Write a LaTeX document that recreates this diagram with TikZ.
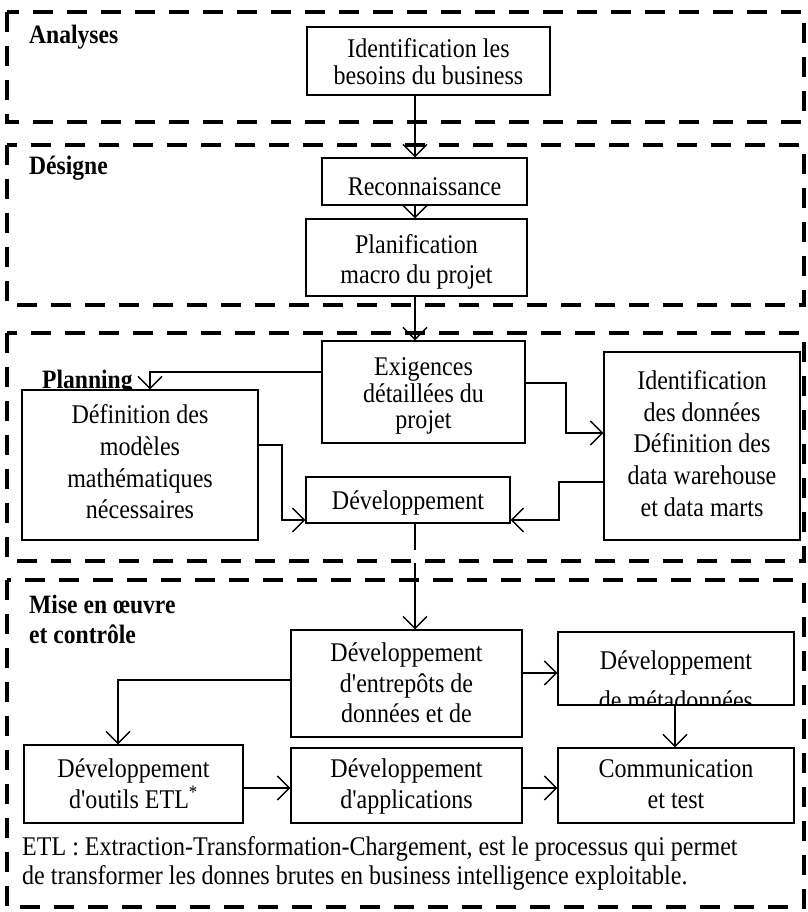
\documentclass[tikz,border=0pt]{standalone}
\usepackage{fontspec}
\setmainfont{Liberation Serif}[Ligatures=TeXOff,FakeStretch=0.89]
\usetikzlibrary{arrows.meta}
\begin{document}
\begin{tikzpicture}[x=1pt,y=-1pt,
  frame/.style={line width=4.5pt, dash pattern=on 20pt off 14pt},
  box/.style={draw, fill=white, line width=1.1pt, inner sep=0pt},
  conn/.style={line width=1.6pt, -{Straight Barb[length=12pt,width=24pt,line width=1.5pt]}},
  plainline/.style={line width=1.6pt},
  lbl/.style={font=\bfseries\fontsize{26.5}{30}\selectfont, inner sep=0pt, anchor=base west},
  txt/.style={font=\fontsize{27}{31}\selectfont, inner sep=0pt, anchor=base}]
\useasboundingbox (0,0) rectangle (807,912);
% frames
\draw[frame] (7,12) rectangle (804,122);
\draw[frame] (7,145) rectangle (804,305);
\draw[frame] (7,333) rectangle (804,561);
\draw[frame] (7,580) rectangle (804,907);
\coordinate (spine) at (415,0);
% labels
\node[lbl] (lA) at (29,44) {Analyses};
\node[lbl] (lD) at (29,175) {Désigne};
\node[lbl] (lP) at (42,388) {Planning};
\node[lbl] (lM1) at (29,613) {Mise en œuvre};
\node[lbl] (lM2) at (29,643) {et contrôle};
% boxes
\node[box, minimum width=243pt, minimum height=68pt] (box1) at (428.5,61) {};
\node[txt] (box1a) at (428.5,58) {Identification les};
\node[txt] (box1b) at (428.5,85) {besoins du business};

\node[box, minimum width=205pt, minimum height=47pt] (recon) at (424.5,181.5) {};
\node[txt] (recona) at (424.5,195) {Reconnaissance};

\node[box, minimum width=221pt, minimum height=77pt] (plan) at (416.5,257.5) {};
\node[txt] (plana) at (416.5,253) {Planification};
\node[txt] (planb) at (416.5,283) {macro du projet};

\node[box, minimum width=203pt, minimum height=102pt] (exig) at (423.5,392) {};
\node[txt] (exiga) at (423.5,375) {Exigences};
\node[txt] (exigb) at (423.5,402) {détaillées du};
\node[txt] (exigc) at (423.5,428) {projet};

\node[box, minimum width=236pt, minimum height=150pt] (defn) at (140,465) {};
\node[txt] (defna) at (140,423) {Définition des};
\node[txt] (defnb) at (140,455) {modèles};
\node[txt] (defnc) at (140,487) {mathématiques};
\node[txt] (defnd) at (140,518) {nécessaires};

\node[box, minimum width=196pt, minimum height=188pt] (ident) at (702,446) {};
\node[txt] (identa) at (702,389) {Identification};
\node[txt] (identb) at (702,421) {des données};
\node[txt] (identc) at (702,452) {Définition des};
\node[txt] (identd) at (702,484) {data warehouse};
\node[txt] (idente) at (702,516) {et data marts};

\node[box, minimum width=204pt, minimum height=46pt] (dev) at (408,500) {};
\node[txt] (deva) at (408,509) {Développement};

\node[box, minimum width=231pt, minimum height=107pt] (entr) at (406.5,683.5) {};
\node[txt] (entra) at (406.5,661) {Développement};
\node[txt] (entrb) at (406.5,692) {d'entrepôts de};
\node[txt] (entrc) at (406.5,722) {données et de};

\node[box, minimum width=236pt, minimum height=73pt] (meta) at (676,668.5) {};
\begin{scope}
\clip (meta.south west) rectangle (meta.north east);
\node[txt] (metaa) at (676,669) {Développement};
\node[txt] (metab) at (676,709) {de métadonnées};
\end{scope}

\node[box, minimum width=219pt, minimum height=78pt] (etl) at (133.5,784) {};
\node[txt] (etla) at (133.5,777) {Développement};
\node[txt] (etlb) at (133.5,808) {d'outils ETL\textsuperscript{*}};

\node[box, minimum width=231pt, minimum height=75pt] (app) at (406.5,785.5) {};
\node[txt] (appa) at (406.5,777) {Développement};
\node[txt] (appb) at (406.5,808) {d'applications};

\node[box, minimum width=236pt, minimum height=75pt] (comm) at (676,785.5) {};
\node[txt] (comma) at (676,777) {Communication};
\node[txt] (commb) at (676,808) {et test};
% footnote
\node[txt, anchor=base west] (fn1) at (22,855) {ETL : Extraction-Transformation-Chargement, est le processus qui permet};
\node[txt, anchor=base west] (fn2) at (22,884) {de transformer les donnes brutes en business intelligence exploitable.};
% connectors
\draw[conn] (box1.south -| spine) -- (recon.north -| spine);
\draw[conn] (recon.south -| spine) -- (plan.north -| spine);
\draw[conn] (plan.south -| spine) -- (exig.north -| spine);
\draw[conn] (exig.west |- 0,372) -| (defn.north -| 150,0);
\draw[conn] (exig.east |- 0,383) -| (566,433) -- (ident.west |- 0,433);
\draw[conn] (defn.east |- 0,445) -| (282,520) -- (dev.west |- 0,520);
\draw[conn] (ident.west |- 0,482) -| (559,520) -- (dev.east |- 0,520);
\coordinate (devend) at (415,550);
\coordinate (mstart) at (415,563);
\draw[plainline] (dev.south -| spine) -- (devend);
\draw[conn] (mstart) -- (entr.north -| spine);
\draw[conn] (entr.west |- 0,680) -| (etl.north -| 118,0);
\draw[conn] (entr.east |- 0,673) -- (meta.west |- 0,673);
\draw[conn] (meta.south -| 675,0) -- (comm.north -| 675,0);
\draw[conn] (etl.east |- 0,788) -- (app.west |- 0,788);
\draw[conn] (app.east |- 0,788) -- (comm.west |- 0,788);
\end{tikzpicture}
\end{document}
